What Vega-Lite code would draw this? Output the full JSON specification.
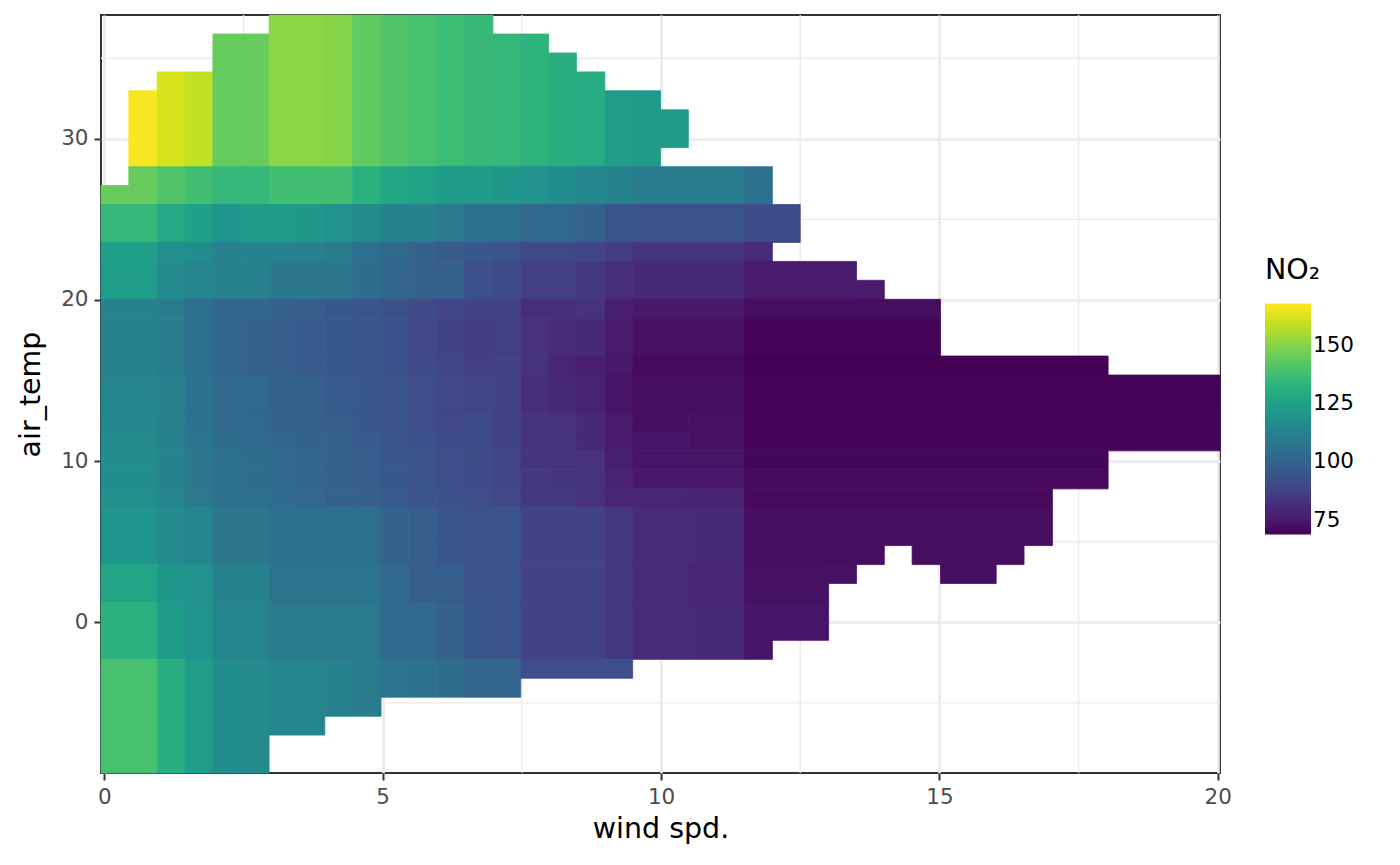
{
"$schema": "https://vega.github.io/schema/vega-lite/v6.json",
"width": 1119, "height": 758,
"autosize": {"type": "none"},
"padding": {"left": 101, "top": 15, "right": 180, "bottom": 92},
"background": "white",
"config": {
 "font": "DejaVu Sans",
 "view": {"stroke": "#333333", "strokeWidth": 2},
 "axis": {"labelFont": "DejaVu Sans", "labelFontSize": 21.5, "labelColor": "#4d4d4d", "titleFont": "DejaVu Sans", "titleFontSize": 28.5, "titleFontWeight": "normal", "titleColor": "#000000", "tickColor": "#333333", "tickSize": 7, "tickWidth": 2, "domain": false, "gridColor": "#ebebeb", "gridWidth": 2.7, "labelPadding": 6},
 "axisX": {"titlePadding": 7},
 "axisY": {"titlePadding": 15},
 "legend": {"orient": "none", "legendX": 1164, "legendY": 241, "padding": 0, "titleFont": "DejaVu Sans", "titleFontSize": 28.5, "titleFontWeight": "normal", "titleColor": "#000000", "labelFont": "DejaVu Sans", "labelFontSize": 21.5, "labelColor": "#000000", "gradientLength": 231, "gradientThickness": 46, "gradientStrokeWidth": 0, "titlePadding": 19, "labelOffset": 16}
},
"layer": [
 {"data": {"values": [{"gx": 2.5}, {"gx": 7.5}, {"gx": 12.5}, {"gx": 17.5}]},
  "mark": {"type": "rule", "color": "#ebebeb", "strokeWidth": 1.4},
  "encoding": {"x": {"field": "gx", "type": "quantitative", "scale": {"domain": [-0.06, 20.04], "nice": false, "zero": false}, "axis": {"values": [0, 5, 10, 15, 20], "title": "wind spd."}}}},
 {"data": {"values": [{"gy": -5}, {"gy": 5}, {"gy": 15}, {"gy": 25}, {"gy": 35}]},
  "mark": {"type": "rule", "color": "#ebebeb", "strokeWidth": 1.4},
  "encoding": {"y": {"field": "gy", "type": "quantitative", "scale": {"domain": [-9.35, 37.68], "nice": false, "zero": false}, "axis": {"values": [0, 10, 20, 30], "title": "air_temp"}}}},
 {"data": {"values": [
{"w":0.44,"w2":0.95,"t":28.27,"t2":32.98,"v":167},
{"w":0.95,"w2":1.45,"t":28.27,"t2":34.15,"v":162},
{"w":1.45,"w2":1.95,"t":28.27,"t2":34.15,"v":159},
{"w":1.95,"w2":2.96,"t":28.27,"t2":36.5,"v":145},
{"w":2.96,"w2":3.96,"t":28.27,"t2":37.68,"v":151},
{"w":3.96,"w2":4.46,"t":28.27,"t2":37.68,"v":150},
{"w":4.46,"w2":4.97,"t":28.27,"t2":37.68,"v":144},
{"w":4.97,"w2":5.47,"t":28.27,"t2":37.68,"v":141},
{"w":5.47,"w2":5.97,"t":28.27,"t2":37.68,"v":139},
{"w":5.97,"w2":6.47,"t":28.27,"t2":37.68,"v":137},
{"w":6.47,"w2":6.98,"t":28.27,"t2":37.68,"v":136},
{"w":6.98,"w2":7.48,"t":28.27,"t2":36.5,"v":135},
{"w":7.48,"w2":7.98,"t":28.27,"t2":36.5,"v":133},
{"w":7.98,"w2":8.48,"t":28.27,"t2":35.33,"v":131},
{"w":8.48,"w2":8.99,"t":28.27,"t2":34.15,"v":130},
{"w":8.99,"w2":9.49,"t":28.27,"t2":32.98,"v":124},
{"w":9.49,"w2":9.99,"t":28.27,"t2":32.98,"v":123},
{"w":9.99,"w2":10.49,"t":29.45,"t2":31.8,"v":123},

{"w":-0.06,"w2":0.44,"t":25.92,"t2":27.1,"v":145},
{"w":0.44,"w2":0.95,"t":25.92,"t2":28.27,"v":145},
{"w":0.95,"w2":1.45,"t":25.92,"t2":28.27,"v":141},
{"w":1.45,"w2":1.95,"t":25.92,"t2":28.27,"v":138},
{"w":1.95,"w2":2.96,"t":25.92,"t2":28.27,"v":135},
{"w":2.96,"w2":4.46,"t":25.92,"t2":28.27,"v":138},
{"w":4.46,"w2":4.97,"t":25.92,"t2":28.27,"v":132},
{"w":4.97,"w2":5.47,"t":25.92,"t2":28.27,"v":128},
{"w":5.47,"w2":5.97,"t":25.92,"t2":28.27,"v":126},
{"w":5.97,"w2":6.98,"t":25.92,"t2":28.27,"v":123},
{"w":6.98,"w2":7.48,"t":25.92,"t2":28.27,"v":122},
{"w":7.48,"w2":7.98,"t":25.92,"t2":28.27,"v":119},
{"w":7.98,"w2":8.48,"t":25.92,"t2":28.27,"v":117},
{"w":8.48,"w2":8.99,"t":25.92,"t2":28.27,"v":115},
{"w":8.99,"w2":9.49,"t":25.92,"t2":28.27,"v":113},
{"w":9.49,"w2":11.5,"t":25.92,"t2":28.27,"v":110},
{"w":11.5,"w2":12.0,"t":25.92,"t2":28.27,"v":106},

{"w":-0.06,"w2":0.95,"t":23.57,"t2":25.92,"v":135},
{"w":0.95,"w2":1.45,"t":23.57,"t2":25.92,"v":129},
{"w":1.45,"w2":1.95,"t":23.57,"t2":25.92,"v":125},
{"w":1.95,"w2":2.45,"t":23.57,"t2":25.92,"v":121},
{"w":2.45,"w2":3.46,"t":23.57,"t2":25.92,"v":123},
{"w":3.46,"w2":3.96,"t":23.57,"t2":25.92,"v":122},
{"w":3.96,"w2":4.46,"t":23.57,"t2":25.92,"v":119},
{"w":4.46,"w2":4.97,"t":23.57,"t2":25.92,"v":116},
{"w":4.97,"w2":5.47,"t":23.57,"t2":25.92,"v":113},
{"w":5.47,"w2":5.97,"t":23.57,"t2":25.92,"v":112},
{"w":5.97,"w2":6.47,"t":23.57,"t2":25.92,"v":109},
{"w":6.47,"w2":6.98,"t":23.57,"t2":25.92,"v":106},
{"w":6.98,"w2":7.48,"t":23.57,"t2":25.92,"v":105},
{"w":7.48,"w2":8.48,"t":23.57,"t2":25.92,"v":102},
{"w":8.48,"w2":8.99,"t":23.57,"t2":25.92,"v":100},
{"w":8.99,"w2":9.49,"t":23.57,"t2":25.92,"v":95},
{"w":9.49,"w2":11.5,"t":23.57,"t2":25.92,"v":94},
{"w":11.5,"w2":12.5,"t":23.57,"t2":25.92,"v":91},

{"w":-0.06,"w2":0.95,"t":22.39,"t2":23.57,"v":125},
{"w":0.95,"w2":1.45,"t":22.39,"t2":23.57,"v":118},
{"w":1.45,"w2":1.95,"t":22.39,"t2":23.57,"v":117},
{"w":1.95,"w2":2.45,"t":22.39,"t2":23.57,"v":112},
{"w":2.45,"w2":3.46,"t":22.39,"t2":23.57,"v":113},
{"w":3.46,"w2":3.96,"t":22.39,"t2":23.57,"v":112},
{"w":3.96,"w2":4.46,"t":22.39,"t2":23.57,"v":110},
{"w":4.46,"w2":4.97,"t":22.39,"t2":23.57,"v":105},
{"w":4.97,"w2":5.47,"t":22.39,"t2":23.57,"v":102},
{"w":5.47,"w2":5.97,"t":22.39,"t2":23.57,"v":99},
{"w":5.97,"w2":6.47,"t":22.39,"t2":23.57,"v":97},
{"w":6.47,"w2":6.98,"t":22.39,"t2":23.57,"v":96},
{"w":6.98,"w2":7.48,"t":22.39,"t2":23.57,"v":94},
{"w":7.48,"w2":8.48,"t":22.39,"t2":23.57,"v":90},
{"w":8.48,"w2":8.99,"t":22.39,"t2":23.57,"v":89},
{"w":8.99,"w2":9.49,"t":22.39,"t2":23.57,"v":86},
{"w":9.49,"w2":11.5,"t":22.39,"t2":23.57,"v":84},
{"w":11.5,"w2":12.0,"t":22.39,"t2":23.57,"v":81},

{"w":-0.06,"w2":0.95,"t":20.04,"t2":22.39,"v":124},
{"w":0.95,"w2":1.45,"t":20.04,"t2":22.39,"v":116},
{"w":1.45,"w2":1.95,"t":20.04,"t2":22.39,"v":114},
{"w":1.95,"w2":2.96,"t":20.04,"t2":22.39,"v":112},
{"w":2.96,"w2":4.46,"t":20.04,"t2":22.39,"v":108},
{"w":4.46,"w2":4.97,"t":20.04,"t2":22.39,"v":104},
{"w":4.97,"w2":5.47,"t":20.04,"t2":22.39,"v":101},
{"w":5.47,"w2":6.47,"t":20.04,"t2":22.39,"v":99},
{"w":6.47,"w2":6.98,"t":20.04,"t2":22.39,"v":93},
{"w":6.98,"w2":7.48,"t":20.04,"t2":22.39,"v":91},
{"w":7.48,"w2":8.48,"t":20.04,"t2":22.39,"v":87},
{"w":8.48,"w2":8.99,"t":20.04,"t2":22.39,"v":85},
{"w":8.99,"w2":9.49,"t":20.04,"t2":22.39,"v":82},
{"w":9.49,"w2":11.5,"t":20.04,"t2":22.39,"v":80},
{"w":11.5,"w2":13.51,"t":20.04,"t2":22.39,"v":76},
{"w":13.51,"w2":14.01,"t":20.04,"t2":21.22,"v":76},

{"w":-0.06,"w2":0.95,"t":18.87,"t2":20.04,"v":113},
{"w":0.95,"w2":1.45,"t":18.87,"t2":20.04,"v":110},
{"w":1.45,"w2":1.95,"t":18.87,"t2":20.04,"v":105},
{"w":1.95,"w2":2.96,"t":18.87,"t2":20.04,"v":101},
{"w":2.96,"w2":3.46,"t":18.87,"t2":20.04,"v":99},
{"w":3.46,"w2":3.96,"t":18.87,"t2":20.04,"v":98},
{"w":3.96,"w2":4.46,"t":18.87,"t2":20.04,"v":96},
{"w":4.46,"w2":4.97,"t":18.87,"t2":20.04,"v":95},
{"w":4.97,"w2":5.47,"t":18.87,"t2":20.04,"v":93},
{"w":5.47,"w2":5.97,"t":18.87,"t2":20.04,"v":91},
{"w":5.97,"w2":6.47,"t":18.87,"t2":20.04,"v":89},
{"w":6.47,"w2":7.48,"t":18.87,"t2":20.04,"v":88},
{"w":7.48,"w2":8.48,"t":18.87,"t2":20.04,"v":82},
{"w":8.48,"w2":8.99,"t":18.87,"t2":20.04,"v":83},
{"w":8.99,"w2":9.49,"t":18.87,"t2":20.04,"v":77},
{"w":9.49,"w2":11.5,"t":18.87,"t2":20.04,"v":75},
{"w":11.5,"w2":15.02,"t":18.87,"t2":20.04,"v":72},

{"w":-0.06,"w2":0.95,"t":16.52,"t2":18.87,"v":113},
{"w":0.95,"w2":1.45,"t":16.52,"t2":18.87,"v":110},
{"w":1.45,"w2":1.95,"t":16.52,"t2":18.87,"v":105},
{"w":1.95,"w2":2.45,"t":16.52,"t2":18.87,"v":101},
{"w":2.45,"w2":2.96,"t":16.52,"t2":18.87,"v":100},
{"w":2.96,"w2":3.46,"t":16.52,"t2":18.87,"v":98},
{"w":3.46,"w2":3.96,"t":16.52,"t2":18.87,"v":97},
{"w":3.96,"w2":4.46,"t":16.52,"t2":18.87,"v":96},
{"w":4.46,"w2":4.97,"t":16.52,"t2":18.87,"v":95},
{"w":4.97,"w2":5.47,"t":16.52,"t2":18.87,"v":93},
{"w":5.47,"w2":5.97,"t":16.52,"t2":18.87,"v":90},
{"w":5.97,"w2":6.47,"t":16.52,"t2":18.87,"v":88},
{"w":6.47,"w2":6.98,"t":16.52,"t2":18.87,"v":86},
{"w":6.98,"w2":7.48,"t":16.52,"t2":18.87,"v":87},
{"w":7.48,"w2":7.98,"t":16.52,"t2":18.87,"v":83},
{"w":7.98,"w2":8.48,"t":16.52,"t2":18.87,"v":81},
{"w":8.48,"w2":8.99,"t":16.52,"t2":18.87,"v":80},
{"w":8.99,"w2":9.49,"t":16.52,"t2":18.87,"v":76},
{"w":9.49,"w2":11.5,"t":16.52,"t2":18.87,"v":73},
{"w":11.5,"w2":15.02,"t":16.52,"t2":18.87,"v":70},

{"w":-0.06,"w2":0.95,"t":15.34,"t2":16.52,"v":113},
{"w":0.95,"w2":1.45,"t":15.34,"t2":16.52,"v":110},
{"w":1.45,"w2":1.95,"t":15.34,"t2":16.52,"v":105},
{"w":1.95,"w2":2.45,"t":15.34,"t2":16.52,"v":101},
{"w":2.45,"w2":2.96,"t":15.34,"t2":16.52,"v":100},
{"w":2.96,"w2":3.46,"t":15.34,"t2":16.52,"v":98},
{"w":3.46,"w2":3.96,"t":15.34,"t2":16.52,"v":97},
{"w":3.96,"w2":4.46,"t":15.34,"t2":16.52,"v":96},
{"w":4.46,"w2":4.97,"t":15.34,"t2":16.52,"v":95},
{"w":4.97,"w2":5.47,"t":15.34,"t2":16.52,"v":93},
{"w":5.47,"w2":5.97,"t":15.34,"t2":16.52,"v":91},
{"w":5.97,"w2":6.47,"t":15.34,"t2":16.52,"v":89},
{"w":6.47,"w2":6.98,"t":15.34,"t2":16.52,"v":87},
{"w":6.98,"w2":7.48,"t":15.34,"t2":16.52,"v":88},
{"w":7.48,"w2":7.98,"t":15.34,"t2":16.52,"v":83},
{"w":7.98,"w2":8.48,"t":15.34,"t2":16.52,"v":79},
{"w":8.48,"w2":8.99,"t":15.34,"t2":16.52,"v":77},
{"w":8.99,"w2":9.49,"t":15.34,"t2":16.52,"v":75},
{"w":9.49,"w2":11.5,"t":15.34,"t2":16.52,"v":71},
{"w":11.5,"w2":18.03,"t":15.34,"t2":16.52,"v":69},

{"w":-0.06,"w2":0.95,"t":12.99,"t2":15.34,"v":114},
{"w":0.95,"w2":1.45,"t":12.99,"t2":15.34,"v":111},
{"w":1.45,"w2":1.95,"t":12.99,"t2":15.34,"v":106},
{"w":1.95,"w2":2.45,"t":12.99,"t2":15.34,"v":103},
{"w":2.45,"w2":2.96,"t":12.99,"t2":15.34,"v":102},
{"w":2.96,"w2":3.46,"t":12.99,"t2":15.34,"v":100},
{"w":3.46,"w2":3.96,"t":12.99,"t2":15.34,"v":99},
{"w":3.96,"w2":4.46,"t":12.99,"t2":15.34,"v":97},
{"w":4.46,"w2":4.97,"t":12.99,"t2":15.34,"v":96},
{"w":4.97,"w2":5.47,"t":12.99,"t2":15.34,"v":94},
{"w":5.47,"w2":5.97,"t":12.99,"t2":15.34,"v":92},
{"w":5.97,"w2":6.47,"t":12.99,"t2":15.34,"v":90},
{"w":6.47,"w2":6.98,"t":12.99,"t2":15.34,"v":89},
{"w":6.98,"w2":7.48,"t":12.99,"t2":15.34,"v":88},
{"w":7.48,"w2":7.98,"t":12.99,"t2":15.34,"v":82},
{"w":7.98,"w2":8.48,"t":12.99,"t2":15.34,"v":80},
{"w":8.48,"w2":8.99,"t":12.99,"t2":15.34,"v":78},
{"w":8.99,"w2":9.49,"t":12.99,"t2":15.34,"v":74},
{"w":9.49,"w2":11.5,"t":12.99,"t2":15.34,"v":72},
{"w":11.5,"w2":20.04,"t":12.99,"t2":15.34,"v":69.5},

{"w":-0.06,"w2":0.95,"t":11.81,"t2":12.99,"v":115},
{"w":0.95,"w2":1.45,"t":11.81,"t2":12.99,"v":111},
{"w":1.45,"w2":1.95,"t":11.81,"t2":12.99,"v":106},
{"w":1.95,"w2":2.45,"t":11.81,"t2":12.99,"v":103},
{"w":2.45,"w2":2.96,"t":11.81,"t2":12.99,"v":102},
{"w":2.96,"w2":3.46,"t":11.81,"t2":12.99,"v":100},
{"w":3.46,"w2":3.96,"t":11.81,"t2":12.99,"v":99},
{"w":3.96,"w2":4.46,"t":11.81,"t2":12.99,"v":98},
{"w":4.46,"w2":4.97,"t":11.81,"t2":12.99,"v":96},
{"w":4.97,"w2":5.47,"t":11.81,"t2":12.99,"v":94},
{"w":5.47,"w2":5.97,"t":11.81,"t2":12.99,"v":92},
{"w":5.97,"w2":6.47,"t":11.81,"t2":12.99,"v":90},
{"w":6.47,"w2":6.98,"t":11.81,"t2":12.99,"v":91},
{"w":6.98,"w2":7.48,"t":11.81,"t2":12.99,"v":88},
{"w":7.48,"w2":7.98,"t":11.81,"t2":12.99,"v":84},
{"w":7.98,"w2":8.48,"t":11.81,"t2":12.99,"v":83},
{"w":8.48,"w2":8.99,"t":11.81,"t2":12.99,"v":80},
{"w":8.99,"w2":9.49,"t":11.81,"t2":12.99,"v":76},
{"w":9.49,"w2":10.49,"t":11.81,"t2":12.99,"v":72},
{"w":10.49,"w2":11.5,"t":11.81,"t2":12.99,"v":73},
{"w":11.5,"w2":20.04,"t":11.81,"t2":12.99,"v":70},

{"w":-0.06,"w2":0.95,"t":10.64,"t2":11.81,"v":116},
{"w":0.95,"w2":1.45,"t":10.64,"t2":11.81,"v":112},
{"w":1.45,"w2":1.95,"t":10.64,"t2":11.81,"v":107},
{"w":1.95,"w2":2.45,"t":10.64,"t2":11.81,"v":104},
{"w":2.45,"w2":2.96,"t":10.64,"t2":11.81,"v":103},
{"w":2.96,"w2":3.46,"t":10.64,"t2":11.81,"v":101},
{"w":3.46,"w2":3.96,"t":10.64,"t2":11.81,"v":100},
{"w":3.96,"w2":4.46,"t":10.64,"t2":11.81,"v":99},
{"w":4.46,"w2":4.97,"t":10.64,"t2":11.81,"v":97},
{"w":4.97,"w2":5.47,"t":10.64,"t2":11.81,"v":95},
{"w":5.47,"w2":5.97,"t":10.64,"t2":11.81,"v":93},
{"w":5.97,"w2":6.98,"t":10.64,"t2":11.81,"v":91},
{"w":6.98,"w2":7.48,"t":10.64,"t2":11.81,"v":88},
{"w":7.48,"w2":8.48,"t":10.64,"t2":11.81,"v":83},
{"w":8.48,"w2":8.99,"t":10.64,"t2":11.81,"v":80},
{"w":8.99,"w2":9.49,"t":10.64,"t2":11.81,"v":76},
{"w":9.49,"w2":10.49,"t":10.64,"t2":11.81,"v":74},
{"w":10.49,"w2":11.5,"t":10.64,"t2":11.81,"v":73},
{"w":11.5,"w2":20.04,"t":10.64,"t2":11.81,"v":70},

{"w":-0.06,"w2":0.95,"t":9.46,"t2":10.64,"v":117},
{"w":0.95,"w2":1.45,"t":9.46,"t2":10.64,"v":113},
{"w":1.45,"w2":1.95,"t":9.46,"t2":10.64,"v":108},
{"w":1.95,"w2":2.45,"t":9.46,"t2":10.64,"v":105},
{"w":2.45,"w2":2.96,"t":9.46,"t2":10.64,"v":104},
{"w":2.96,"w2":3.46,"t":9.46,"t2":10.64,"v":102},
{"w":3.46,"w2":3.96,"t":9.46,"t2":10.64,"v":101},
{"w":3.96,"w2":4.46,"t":9.46,"t2":10.64,"v":99},
{"w":4.46,"w2":4.97,"t":9.46,"t2":10.64,"v":98},
{"w":4.97,"w2":5.47,"t":9.46,"t2":10.64,"v":96},
{"w":5.47,"w2":5.97,"t":9.46,"t2":10.64,"v":94},
{"w":5.97,"w2":6.47,"t":9.46,"t2":10.64,"v":92},
{"w":6.47,"w2":6.98,"t":9.46,"t2":10.64,"v":91},
{"w":6.98,"w2":7.48,"t":9.46,"t2":10.64,"v":89},
{"w":7.48,"w2":8.48,"t":9.46,"t2":10.64,"v":84},
{"w":8.48,"w2":8.99,"t":9.46,"t2":10.64,"v":83},
{"w":8.99,"w2":9.49,"t":9.46,"t2":10.64,"v":77},
{"w":9.49,"w2":11.5,"t":9.46,"t2":10.64,"v":74},
{"w":11.5,"w2":18.03,"t":9.46,"t2":10.64,"v":70},

{"w":-0.06,"w2":0.95,"t":8.28,"t2":9.46,"v":117},
{"w":0.95,"w2":1.45,"t":8.28,"t2":9.46,"v":113},
{"w":1.45,"w2":1.95,"t":8.28,"t2":9.46,"v":108},
{"w":1.95,"w2":2.45,"t":8.28,"t2":9.46,"v":105},
{"w":2.45,"w2":2.96,"t":8.28,"t2":9.46,"v":104},
{"w":2.96,"w2":3.46,"t":8.28,"t2":9.46,"v":102},
{"w":3.46,"w2":3.96,"t":8.28,"t2":9.46,"v":101},
{"w":3.96,"w2":4.46,"t":8.28,"t2":9.46,"v":99},
{"w":4.46,"w2":4.97,"t":8.28,"t2":9.46,"v":98},
{"w":4.97,"w2":5.47,"t":8.28,"t2":9.46,"v":96},
{"w":5.47,"w2":5.97,"t":8.28,"t2":9.46,"v":94},
{"w":5.97,"w2":6.47,"t":8.28,"t2":9.46,"v":92},
{"w":6.47,"w2":6.98,"t":8.28,"t2":9.46,"v":91},
{"w":6.98,"w2":7.48,"t":8.28,"t2":9.46,"v":89},
{"w":7.48,"w2":7.98,"t":8.28,"t2":9.46,"v":85},
{"w":7.98,"w2":8.48,"t":8.28,"t2":9.46,"v":84},
{"w":8.48,"w2":8.99,"t":8.28,"t2":9.46,"v":83},
{"w":8.99,"w2":9.49,"t":8.28,"t2":9.46,"v":78},
{"w":9.49,"w2":11.5,"t":8.28,"t2":9.46,"v":75},
{"w":11.5,"w2":18.03,"t":8.28,"t2":9.46,"v":71},

{"w":-0.06,"w2":0.95,"t":7.11,"t2":8.28,"v":118},
{"w":0.95,"w2":1.45,"t":7.11,"t2":8.28,"v":114},
{"w":1.45,"w2":1.95,"t":7.11,"t2":8.28,"v":109},
{"w":1.95,"w2":2.45,"t":7.11,"t2":8.28,"v":106},
{"w":2.45,"w2":2.96,"t":7.11,"t2":8.28,"v":105},
{"w":2.96,"w2":3.46,"t":7.11,"t2":8.28,"v":103},
{"w":3.46,"w2":3.96,"t":7.11,"t2":8.28,"v":102},
{"w":3.96,"w2":4.46,"t":7.11,"t2":8.28,"v":100},
{"w":4.46,"w2":4.97,"t":7.11,"t2":8.28,"v":99},
{"w":4.97,"w2":5.47,"t":7.11,"t2":8.28,"v":97},
{"w":5.47,"w2":5.97,"t":7.11,"t2":8.28,"v":95},
{"w":5.97,"w2":6.47,"t":7.11,"t2":8.28,"v":93},
{"w":6.47,"w2":6.98,"t":7.11,"t2":8.28,"v":92},
{"w":6.98,"w2":7.48,"t":7.11,"t2":8.28,"v":90},
{"w":7.48,"w2":8.48,"t":7.11,"t2":8.28,"v":85},
{"w":8.48,"w2":8.99,"t":7.11,"t2":8.28,"v":83},
{"w":8.99,"w2":10.49,"t":7.11,"t2":8.28,"v":79},
{"w":10.49,"w2":11.5,"t":7.11,"t2":8.28,"v":78},
{"w":11.5,"w2":17.03,"t":7.11,"t2":8.28,"v":71},

{"w":-0.06,"w2":0.95,"t":3.58,"t2":7.11,"v":121},
{"w":0.95,"w2":1.45,"t":3.58,"t2":7.11,"v":116},
{"w":1.45,"w2":1.95,"t":3.58,"t2":7.11,"v":114},
{"w":1.95,"w2":2.96,"t":3.58,"t2":7.11,"v":108},
{"w":2.96,"w2":4.97,"t":3.58,"t2":7.11,"v":105},
{"w":4.97,"w2":5.47,"t":3.58,"t2":7.11,"v":100},
{"w":5.47,"w2":5.97,"t":3.58,"t2":7.11,"v":98},
{"w":5.97,"w2":6.47,"t":3.58,"t2":7.11,"v":95},
{"w":6.47,"w2":7.48,"t":3.58,"t2":7.11,"v":94},
{"w":7.48,"w2":8.99,"t":3.58,"t2":7.11,"v":88},
{"w":8.99,"w2":9.49,"t":3.58,"t2":7.11,"v":85},
{"w":9.49,"w2":10.49,"t":3.58,"t2":7.11,"v":81},
{"w":10.49,"w2":11.5,"t":3.58,"t2":7.11,"v":80},
{"w":11.5,"w2":17.03,"t":4.76,"t2":7.11,"v":72},
{"w":11.5,"w2":14.01,"t":3.58,"t2":4.76,"v":72},
{"w":14.51,"w2":16.52,"t":3.58,"t2":4.76,"v":72},

{"w":-0.06,"w2":0.95,"t":1.23,"t2":3.58,"v":127},
{"w":0.95,"w2":1.45,"t":1.23,"t2":3.58,"v":122},
{"w":1.45,"w2":1.95,"t":1.23,"t2":3.58,"v":119},
{"w":1.95,"w2":2.96,"t":1.23,"t2":3.58,"v":113},
{"w":2.96,"w2":4.97,"t":1.23,"t2":3.58,"v":107},
{"w":4.97,"w2":5.47,"t":1.23,"t2":3.58,"v":102},
{"w":5.47,"w2":6.47,"t":1.23,"t2":3.58,"v":98},
{"w":6.47,"w2":7.48,"t":1.23,"t2":3.58,"v":94},
{"w":7.48,"w2":8.99,"t":1.23,"t2":3.58,"v":88},
{"w":8.99,"w2":9.49,"t":1.23,"t2":3.58,"v":85},
{"w":9.49,"w2":10.49,"t":1.23,"t2":3.58,"v":81},
{"w":10.49,"w2":11.5,"t":1.23,"t2":3.58,"v":79},
{"w":11.5,"w2":13.01,"t":1.23,"t2":3.58,"v":73},
{"w":13.01,"w2":13.51,"t":2.41,"t2":3.58,"v":73},
{"w":15.02,"w2":16.02,"t":2.41,"t2":3.58,"v":72},

{"w":-0.06,"w2":0.95,"t":-2.3,"t2":1.23,"v":132},
{"w":0.95,"w2":1.45,"t":-2.3,"t2":1.23,"v":123},
{"w":1.45,"w2":1.95,"t":-2.3,"t2":1.23,"v":120},
{"w":1.95,"w2":2.96,"t":-2.3,"t2":1.23,"v":114},
{"w":2.96,"w2":4.97,"t":-2.3,"t2":1.23,"v":109},
{"w":4.97,"w2":5.97,"t":-2.3,"t2":1.23,"v":102},
{"w":5.97,"w2":6.47,"t":-2.3,"t2":1.23,"v":99},
{"w":6.47,"w2":6.98,"t":-2.3,"t2":1.23,"v":96},
{"w":6.98,"w2":7.48,"t":-2.3,"t2":1.23,"v":94},
{"w":7.48,"w2":8.99,"t":-2.3,"t2":1.23,"v":88},
{"w":8.99,"w2":9.49,"t":-2.3,"t2":1.23,"v":85},
{"w":9.49,"w2":10.49,"t":-2.3,"t2":1.23,"v":81},
{"w":10.49,"w2":11.5,"t":-2.3,"t2":1.23,"v":80},
{"w":11.5,"w2":12.0,"t":-2.3,"t2":1.23,"v":74},
{"w":12.0,"w2":13.01,"t":-1.12,"t2":1.23,"v":74},

{"w":-0.06,"w2":0.95,"t":-9.35,"t2":-2.3,"v":139},
{"w":0.95,"w2":1.45,"t":-9.35,"t2":-2.3,"v":131},
{"w":1.45,"w2":1.95,"t":-9.35,"t2":-2.3,"v":124},
{"w":1.95,"w2":2.45,"t":-9.35,"t2":-2.3,"v":117},
{"w":2.45,"w2":2.96,"t":-9.35,"t2":-2.3,"v":116},
{"w":2.96,"w2":3.96,"t":-7.0,"t2":-2.3,"v":114},
{"w":3.96,"w2":4.46,"t":-5.83,"t2":-2.3,"v":112},
{"w":4.46,"w2":4.97,"t":-5.83,"t2":-2.3,"v":110},
{"w":4.97,"w2":5.47,"t":-4.65,"t2":-2.3,"v":107},
{"w":5.47,"w2":5.97,"t":-4.65,"t2":-2.3,"v":106},
{"w":5.97,"w2":6.47,"t":-4.65,"t2":-2.3,"v":104},
{"w":6.47,"w2":7.48,"t":-4.65,"t2":-2.3,"v":101},
{"w":7.48,"w2":9.49,"t":-3.47,"t2":-2.3,"v":92}
 ]},
  "mark": {"type": "rect", "stroke": {"expr": "scale('color', datum.v)"}, "strokeWidth": 0.8},
  "encoding": {
   "x": {"field": "w", "type": "quantitative", "scale": {"domain": [-0.06, 20.04], "nice": false, "zero": false}, "axis": {"values": [0, 5, 10, 15, 20], "title": "wind spd."}},
   "x2": {"field": "w2"},
   "y": {"field": "t", "type": "quantitative", "scale": {"domain": [-9.35, 37.68], "nice": false, "zero": false}, "axis": {"values": [0, 10, 20, 30], "title": "air_temp"}},
   "y2": {"field": "t2"},
   "color": {"field": "v", "type": "quantitative", "scale": {"scheme": "viridis", "domain": [69, 168]}, "legend": {"type": "gradient", "direction": "vertical", "title": "NO₂", "values": [75, 100, 125, 150]}}
  }}
]
}
